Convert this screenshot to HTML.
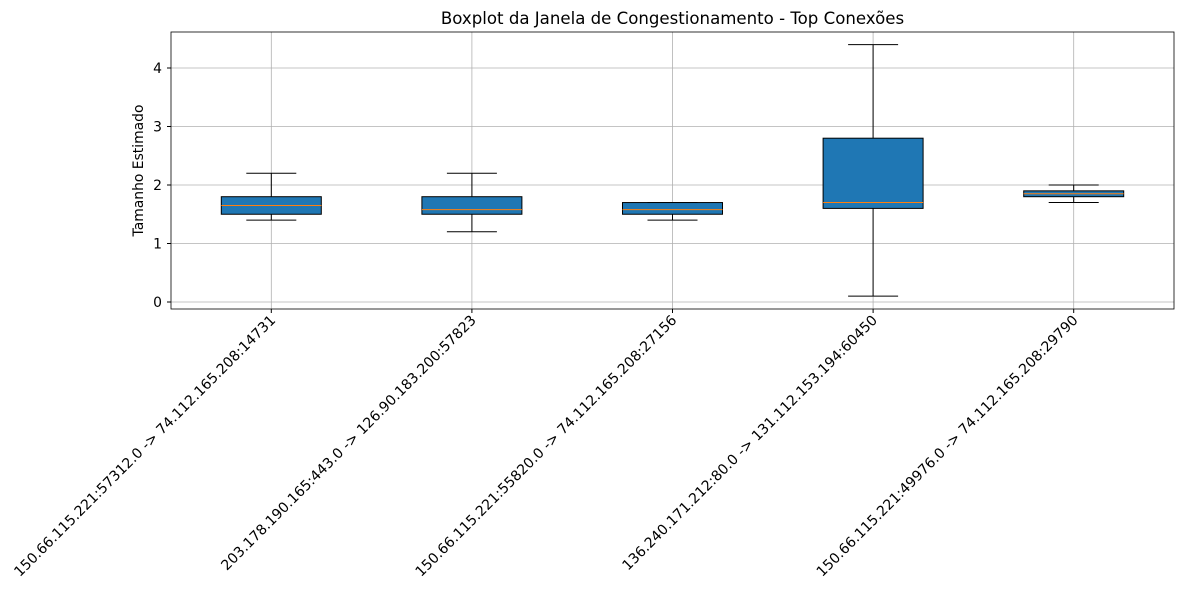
<!DOCTYPE html>
<html><head><meta charset="utf-8"><style>
body{margin:0;background:#fff;font-family:"DejaVu Sans",sans-serif}
</style></head><body>
<svg id="c" width="1182" height="590" xmlns="http://www.w3.org/2000/svg" font-family="DejaVu Sans, sans-serif"></svg>
<script>
const categories=["150.66.115.221:57312.0 -> 74.112.165.208:14731","203.178.190.165:443.0 -> 126.90.183.200:57823","150.66.115.221:55820.0 -> 74.112.165.208:27156","136.240.171.212:80.0 -> 131.112.153.194:60450","150.66.115.221:49976.0 -> 74.112.165.208:29790"];
const whiskerLow=[1.4,1.2,1.4,0.1,1.7];
const q1=[1.5,1.5,1.5,1.6,1.8];
const medians=[1.65,1.58,1.58,1.7,1.85];
const q3=[1.8,1.8,1.7,2.8,1.9];
const whiskerHigh=[2.2,2.2,1.7,4.4,2.0];
const yTicks=[0,1,2,3,4];

const svg=document.getElementById('c');const NS="http://www.w3.org/2000/svg";
const L=171,R=1174,T=32,B=309;
const y=v=>302-v*58.5;
const x=i=>L+(R-L)*(i+0.5)/categories.length;
function el(t,a,p){const e=document.createElementNS(NS,t);for(const k in a)e.setAttribute(k,a[k]);(p||svg).appendChild(e);return e;}
let bg=el('rect',{x:L,y:T,width:R-L,height:B-T,fill:'#fff'});


yTicks.forEach(v=>{
 let g=el('line',{x1:L,x2:R,y1:y(v),y2:y(v),stroke:'#b0b0b0','stroke-width':0.8});
 
 
 el('line',{x1:L-4,x2:L,y1:y(v),y2:y(v),stroke:'#000'});
 let t=el('text',{x:L-9,y:y(v)+5,'text-anchor':'end','font-size':13.9});t.textContent=v;
 
 
});
categories.forEach((c,i)=>{
 const cx=x(i);
 let g=el('line',{x1:cx,x2:cx,y1:T,y2:B,stroke:'#b0b0b0','stroke-width':0.8});
 
 
 el('line',{x1:cx,x2:cx,y1:B,y2:B+4,stroke:'#000'});
 el('line',{x1:cx,x2:cx,y1:y(whiskerLow[i]),y2:y(q1[i]),stroke:'#000'});
 el('line',{x1:cx,x2:cx,y1:y(q3[i]),y2:y(whiskerHigh[i]),stroke:'#000'});
 el('line',{x1:cx-25,x2:cx+25,y1:y(whiskerLow[i]),y2:y(whiskerLow[i]),stroke:'#000'});
 el('line',{x1:cx-25,x2:cx+25,y1:y(whiskerHigh[i]),y2:y(whiskerHigh[i]),stroke:'#000'});
 let b=el('rect',{x:cx-50,y:y(q3[i]),width:100,height:y(q1[i])-y(q3[i]),fill:'#1f77b4',stroke:'#000'});
 
 
 let m=el('line',{x1:cx-50,x2:cx+50,y1:y(medians[i]),y2:y(medians[i]),stroke:'#ff7f0e'});
 
 
 let t=el('text',{x:0,y:0,'text-anchor':'end','font-size':14.1,transform:`translate(${cx+5},${B+12}) rotate(-45)`});
 t.textContent=c;
 
 
});
let fr=el('rect',{x:L,y:T,width:R-L,height:B-T,fill:'none',stroke:'#000','stroke-width':0.8});


let tt=el('text',{x:(L+R)/2,y:24,'text-anchor':'middle','font-size':16.6});tt.textContent='Boxplot da Janela de Congestionamento - Top Conexões';


let yl=el('text',{x:0,y:0,'text-anchor':'middle','font-size':13.9,transform:`translate(143,${(T+B)/2}) rotate(-90)`});yl.textContent='Tamanho Estimado';


</script>
</body></html>
